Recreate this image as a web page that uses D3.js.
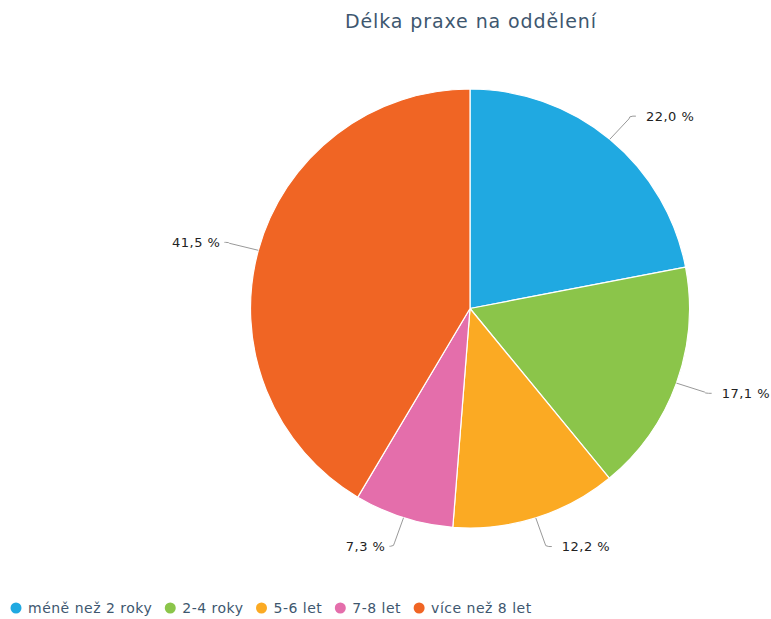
<!DOCTYPE html>
<html>
<head>
<meta charset="utf-8">
<script src="https://cdn.jsdelivr.net/npm/d3@7"></script>
<style>
  html, body { margin: 0; padding: 0; background: #fff; }
  svg { display: block; font-family: "DejaVu Sans", Verdana, sans-serif; }
</style>
</head>
<body>
<svg id="chart" width="771" height="619"></svg>
<script>
// Length of practice on the ward – share of respondents per category (%)
const categories = ["méně než 2 roky", "2-4 roky", "5-6 let", "7-8 let", "více než 8 let"];
const values = [22.0, 17.1, 12.2, 7.3, 41.5];
const colors = ["#20a9e1", "#8bc54a", "#fbaa23", "#e46eab", "#f06524"];
const titleText = "Délka praxe na oddělení";

const width = 771, height = 619;
const cx = 470, cy = 308.5, radius = 219.5, labelDistance = 30;

const svg = d3.select("#chart");

svg.append("text")
  .attr("x", 471)
  .attr("y", 28)
  .attr("text-anchor", "middle")
  .attr("fill", "#3e576f")
  .attr("font-size", 19)
  .attr("letter-spacing", 0.9)
  .text(titleText);

const data = categories.map((c, i) => ({ name: c, value: values[i], color: colors[i] }));

const pie = d3.pie().value(d => d.value).sort(null);
const arcs = pie(data);
const arc = d3.arc().innerRadius(0).outerRadius(radius);

const g = svg.append("g").attr("transform", `translate(${cx},${cy})`);

g.selectAll("path.slice")
  .data(arcs)
  .join("path")
  .attr("class", "slice")
  .attr("d", arc)
  .attr("fill", d => d.data.color)
  .attr("stroke", "#fff")
  .attr("stroke-width", 1.2)
  .attr("stroke-linejoin", "round");

const fmt = v => d3.format(".1f")(v).replace(".", ",") + " %";

// connectors and data labels
arcs.forEach(a => {
  const mid = (a.startAngle + a.endAngle) / 2;
  const s = Math.sin(mid), c = -Math.cos(mid);
  const right = s >= 0;
  const ex = s * radius, ey = c * radius;
  const R = radius + labelDistance;
  const lx = s * R, ly = c * R;
  const endX = lx + (right ? 7 : -5);
  const p = d3.path();
  p.moveTo(ex, ey);
  p.lineTo(lx, ly - (ly - ey) * 0.12);
  p.quadraticCurveTo(lx, ly, lx + (right ? 4 : -4), ly);
  p.lineTo(endX, ly);
  g.append("path")
    .attr("d", p.toString())
    .attr("fill", "none")
    .attr("stroke", "#999")
    .attr("stroke-width", 1);
  g.append("text")
    .attr("x", right ? lx + 17 : lx - 9)
    .attr("y", ly)
    .attr("dy", "0.35em")
    .attr("text-anchor", right ? "start" : "end")
    .attr("font-size", 13)
    .attr("letter-spacing", 0.5)
    .attr("fill", "#222")
    .text(fmt(a.data.value));
});

// legend
const legend = svg.append("g").attr("transform", "translate(0,608)");
let x = 16;
data.forEach(d => {
  const item = legend.append("g").attr("transform", `translate(${x},0)`);
  item.append("circle").attr("r", 5.5).attr("fill", d.color);
  const t = item.append("text")
    .attr("x", 12)
    .attr("y", 0)
    .attr("dy", "0.35em")
    .attr("font-size", 14)
    .attr("letter-spacing", 0.5)
    .attr("fill", "#3e576f")
    .text(d.name);
  x += 12 + t.node().getComputedTextLength() + 18;
});
</script>
</body>
</html>
